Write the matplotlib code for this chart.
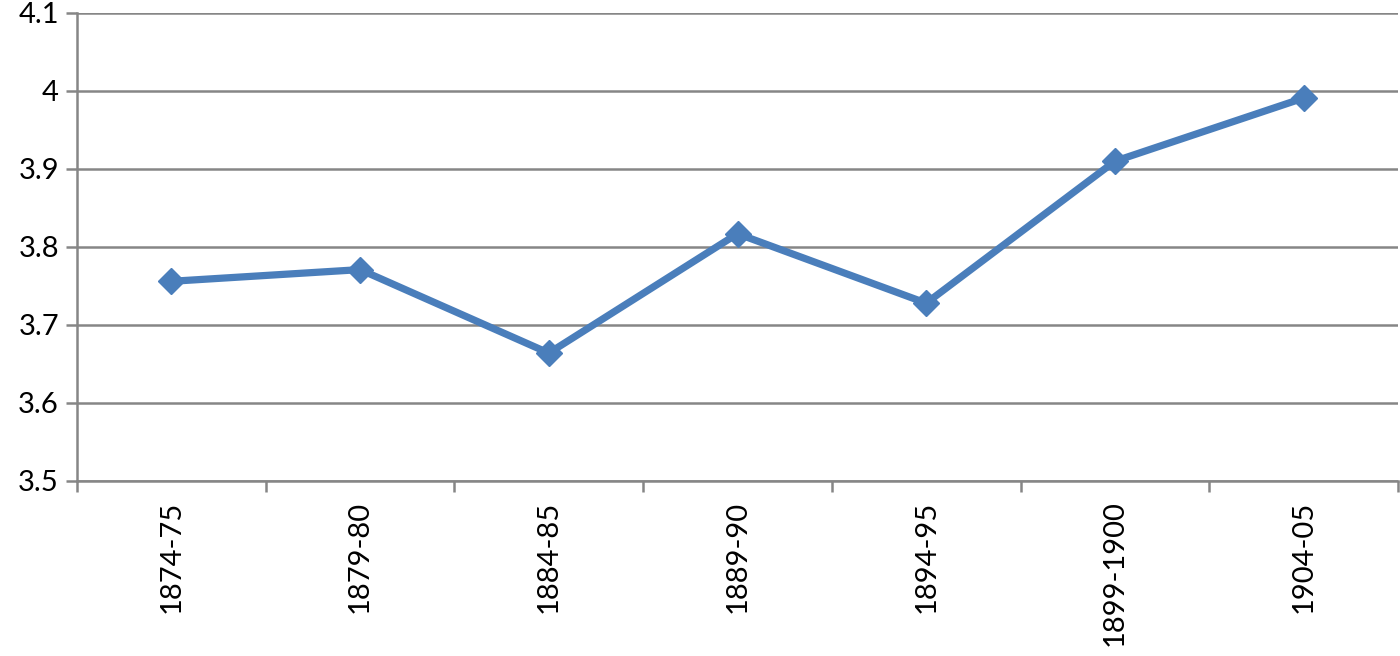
import matplotlib.pyplot as plt
import numpy as np

periods = ['1874-75', '1879-80', '1884-85', '1889-90', '1894-95', '1899-1900', '1904-05']
values = [3.756, 3.771, 3.664, 3.817, 3.728, 3.910, 3.991]
y_ticks = [3.5, 3.6, 3.7, 3.8, 3.9, 4.0, 4.1]
y_labels = ['3.5', '3.6', '3.7', '3.8', '3.9', '4', '4.1']

plt.rcParams['font.family'] = ['Lato', 'DejaVu Sans']

fig = plt.figure(figsize=(14, 6.56), dpi=100)
ax = fig.add_axes([0.055, 0.2668, 0.9436, 0.7134])

grey = '#868686'
x = np.arange(len(periods))

ax.plot(x, values, color='#4A7EBB', lw=5.2, marker='D', markersize=13,
        solid_joinstyle='round', zorder=3)

ax.set_xlim(-0.5, len(periods) - 0.5)
ax.set_ylim(3.5, 4.1)

# y grid lines and ticks
ax.set_yticks(y_ticks)
ax.set_yticklabels(y_labels, fontsize=21)
ax.yaxis.grid(True, color=grey, lw=1.8)
ax.tick_params(axis='y', length=8, width=1.8, color=grey, pad=5)

# category boundaries as major ticks, labels on minor ticks
ax.set_xticks(np.arange(-0.5, len(periods), 1.0))
ax.set_xticklabels([])
ax.set_xticks(x, minor=True)
ax.set_xticklabels(periods, minor=True, rotation=90, fontsize=21)
ax.tick_params(axis='x', which='major', length=8, width=1.8, color=grey)
ax.tick_params(axis='x', which='minor', length=0, pad=14)

for side in ['top', 'right']:
    ax.spines[side].set_visible(False)
for side in ['left', 'bottom']:
    ax.spines[side].set_color(grey)
    ax.spines[side].set_linewidth(1.8)

ax.set_axisbelow(True)
fig.savefig('out.png', dpi=100)
